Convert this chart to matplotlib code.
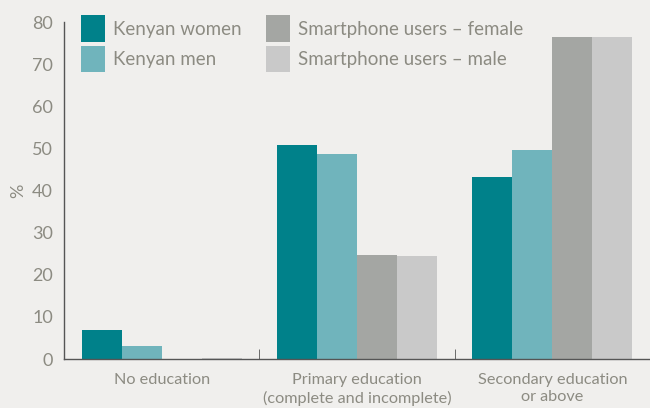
import numpy as np
import matplotlib.pyplot as plt

plt.rcParams['font.family'] = ['Lato', 'DejaVu Sans']

categories = ['No education', 'Primary education\n(complete and incomplete)', 'Secondary education\nor above']
series = ['Kenyan women', 'Kenyan men', 'Smartphone users – female', 'Smartphone users – male']
kenyan_women = [7.0, 50.8, 43.2]
kenyan_men = [3.0, 48.7, 49.6]
smart_female = [0.1, 24.6, 76.4]
smart_male = [0.3, 24.4, 76.4]
colors = ['#00818A', '#70B4BC', '#A4A6A3', '#C9C9C9']

bg = '#F0EFED'
txt = '#8C8B82'

fig = plt.figure(figsize=(6.5, 4.08), dpi=100, facecolor=bg)
ax = fig.add_axes([0.0985, 0.12, 0.9015, 0.826], facecolor=bg)

x = np.arange(len(categories))
w = 0.205
for i, (vals, c, lab) in enumerate(zip([kenyan_women, kenyan_men, smart_female, smart_male], colors, series)):
    ax.bar(x + (i - 1.5) * w, vals, width=w, color=c, label=lab, linewidth=0)

ax.set_xlim(-0.5, 2.5)
ax.set_ylim(0, 80)
ax.set_yticks(range(0, 81, 10))
ax.tick_params(axis='y', length=0, labelsize=13, labelcolor=txt, pad=8)
ax.set_xticks(x)
ax.set_xticklabels(categories, fontsize=11.7, color=txt, linespacing=1.3)
ax.tick_params(axis='x', length=0, pad=10)
ax.set_xticks([0.5, 1.5, 2.5], minor=True)
ax.tick_params(axis='x', which='minor', direction='in', length=7, color='#555555')
for s in ['top', 'right']:
    ax.spines[s].set_visible(False)
for s in ['left', 'bottom']:
    ax.spines[s].set_color('#555555')
    ax.spines[s].set_linewidth(1)

ax.set_ylabel('%', fontsize=13, color=txt, labelpad=4)

leg = ax.legend(ncol=2, loc='upper left', bbox_to_anchor=(0.0, 1.07), frameon=False,
                fontsize=13.5, handlelength=1.3, handleheight=1.8, handletextpad=0.4,
                columnspacing=1.3, labelspacing=0.2, labelcolor=txt)

fig.savefig('out.png', dpi=100, facecolor=bg)
